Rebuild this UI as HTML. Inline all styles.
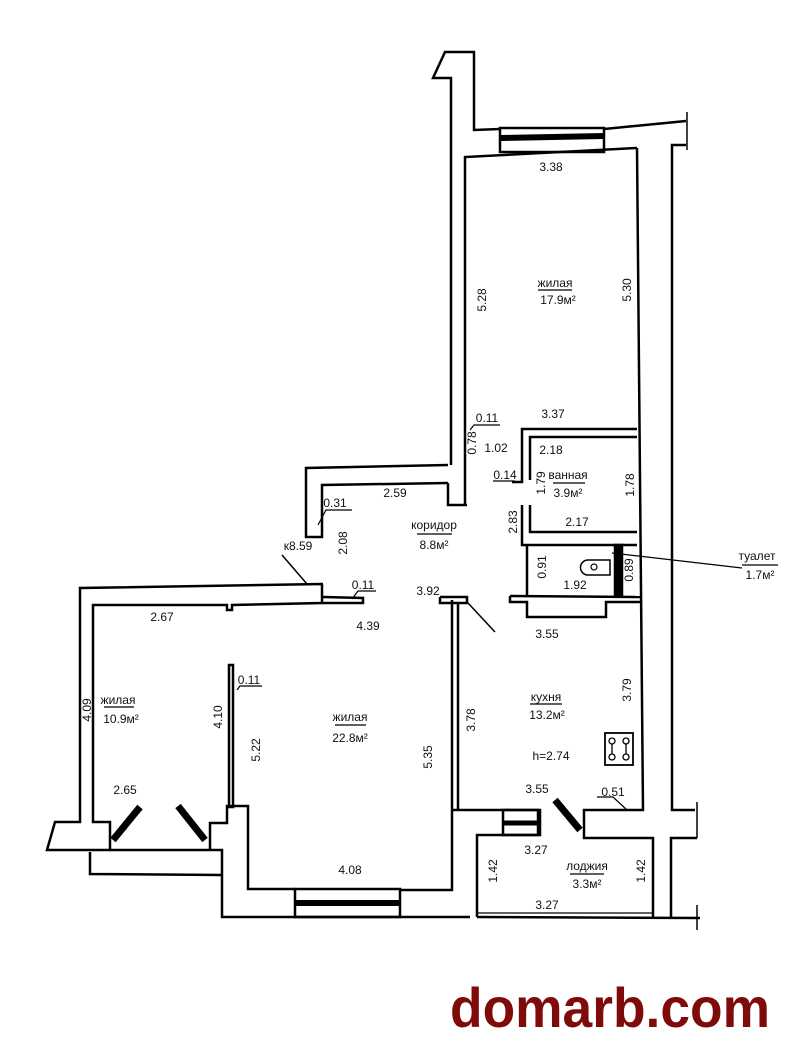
<!DOCTYPE html>
<html><head><meta charset="utf-8"><style>
html,body{margin:0;padding:0;background:#fff}
svg{display:block}
text{font-family:"Liberation Sans",sans-serif;font-size:12px;fill:#111;text-anchor:middle}
</style></head><body>
<svg width="787" height="1051" viewBox="0 0 787 1051" xmlns="http://www.w3.org/2000/svg">
<g fill="none" stroke="#000" stroke-width="2.5" stroke-linejoin="miter">
<polyline points="451,465 451,78 433,78 445,52 474,52 474,130 500,129"/>
<polyline points="465,505 465,157 637,148"/>
<polyline points="448,483 448,505 467,505"/>
<rect x="500" y="128" width="104" height="24"/>
<line x1="500" y1="138" x2="604" y2="136" stroke-width="6"/>
<polyline points="604,129 686,121"/>
<line x1="687" y1="112" x2="687" y2="150" stroke-width="1.5"/>
<polyline points="686,145 672,145 672,810 695,810"/>
<line x1="697" y1="802" x2="697" y2="838" stroke-width="1.5"/>
<polyline points="697,838 671,838 671,918"/>
<polyline points="637,148 643,810 584,810 584,838 653,838 653,918"/>
<polyline points="637,429 522,429 522,482 512,482"/>
<polyline points="637,437 530,437 530,480"/>
<polyline points="522,505 522,545 637,545"/>
<polyline points="530,505 530,532 637,532"/>
<rect x="615" y="545" width="7" height="50" fill="#000"/>
<polyline points="510,596 641,597"/>
<polyline points="510,596 510,602 527,602 527,617 606,617 606,602 641,602"/>
<line x1="527" y1="545" x2="527" y2="596"/>
<polyline points="448,465 306,468 306,537 322,537 322,485 448,483"/>
<line x1="282" y1="555" x2="307" y2="584" stroke-width="1.5"/>
<polyline points="323,584 80,588 80,822 55,822 47,850 110,850 110,822 93,822 93,605 227,605 227,610 232,610 232,605 322,603 322,584"/>
<polyline points="323,597 363,598 363,603 323,603"/>
<polyline points="110,850 222,850 222,917 470,917"/>
<polyline points="90,852 90,874 222,875"/>
<polyline points="210,850 210,823 227,823 227,806 248,806 248,889 295,889"/>
<rect x="229" y="665" width="4" height="142"/>
<rect x="295" y="889" width="105" height="28"/>
<line x1="295" y1="903" x2="400" y2="903" stroke-width="6"/>
<polyline points="400,890 452,890 452,600"/>
<polyline points="458,810 458,603"/>
<polyline points="440,597 467,597 467,603 440,603 440,597"/>
<line x1="468" y1="603" x2="495" y2="632" stroke-width="1.5"/>
<polyline points="452,810 540,810 540,835 477,835 477,917"/>
<rect x="503" y="810" width="35" height="25"/>
<line x1="503" y1="823" x2="538" y2="823" stroke-width="5"/>
<line x1="555" y1="800" x2="580" y2="830" stroke-width="7"/>
<line x1="477" y1="917" x2="700" y2="918"/>
<line x1="477" y1="913" x2="653" y2="913" stroke-width="1.2"/>
<line x1="697" y1="905" x2="697" y2="930" stroke-width="1.5"/>
<line x1="113" y1="840" x2="140" y2="807" stroke-width="7"/>
<line x1="178" y1="806" x2="205" y2="840" stroke-width="7"/>
<path d="M588,560 h22 v15 h-22 a7.5,7.5 0 0 1 0,-15z" stroke-width="1.5"/>
<circle cx="594" cy="567" r="3" stroke-width="1.2"/>
<rect x="605" y="733" width="28" height="32" stroke-width="1.8"/>
<g stroke-width="1.3"><circle cx="612" cy="741" r="3"/><circle cx="626" cy="741" r="3"/><circle cx="612" cy="757" r="3"/><circle cx="626" cy="757" r="3"/><line x1="612" y1="744" x2="612" y2="754"/><line x1="626" y1="744" x2="626" y2="754"/></g>
<g stroke-width="1.2">
<line x1="612" y1="553" x2="742" y2="568"/>
<polyline points="318,525 326,510 352,510"/>
<polyline points="352,599 358,591 376,591"/>
<polyline points="470,430 474,425 500,425"/>
<polyline points="493,481 515,481"/>
<polyline points="237,690 240,686 262,686"/>
<polyline points="627,810 613,797 597,797"/>
</g>
<g stroke-width="1.2">
<line x1="538" y1="290" x2="572" y2="290"/><line x1="553" y1="483" x2="585" y2="483"/>
<line x1="417" y1="534" x2="452" y2="534"/><line x1="742" y1="565" x2="778" y2="565"/>
<line x1="104" y1="707" x2="134" y2="707"/><line x1="335" y1="725" x2="366" y2="725"/>
<line x1="530" y1="704" x2="562" y2="704"/><line x1="570" y1="874" x2="604" y2="874"/>
</g>
</g>
<g>
<text x="551" y="171">3.38</text>
<text x="555" y="287">жилая</text><text x="558" y="304">17.9м²</text>
<text transform="translate(486,300) rotate(-90)">5.28</text>
<text transform="translate(631,290) rotate(-90)">5.30</text>
<text x="487" y="422">0.11</text><text x="553" y="418">3.37</text>
<text transform="translate(476,443) rotate(-90)">0.78</text>
<text x="496" y="452">1.02</text><text x="551" y="454">2.18</text>
<text x="505" y="479">0.14</text>
<text transform="translate(545,483) rotate(-90)">1.79</text>
<text x="568" y="479">ванная</text><text x="568" y="497">3.9м²</text>
<text transform="translate(634,485) rotate(-90)">1.78</text>
<text x="335" y="507">0.31</text><text x="395" y="497">2.59</text>
<text x="434" y="529">коридор</text><text x="434" y="549">8.8м²</text>
<text transform="translate(347,543) rotate(-90)">2.08</text>
<text x="298" y="550">к8.59</text>
<text transform="translate(517,522) rotate(-90)">2.83</text>
<text x="577" y="526">2.17</text>
<text transform="translate(546,567) rotate(-90)">0.91</text>
<text x="575" y="589">1.92</text>
<text transform="translate(633,570) rotate(-90)">0.89</text>
<text x="757" y="560">туалет</text><text x="760" y="579">1.7м²</text>
<text x="363" y="589">0.11</text><text x="428" y="595">3.92</text>
<text x="162" y="621">2.67</text><text x="368" y="630">4.39</text><text x="547" y="638">3.55</text>
<text x="249" y="684">0.11</text>
<text x="118" y="704">жилая</text><text x="121" y="723">10.9м²</text>
<text transform="translate(91,710) rotate(-90)">4.09</text>
<text transform="translate(222,717) rotate(-90)">4.10</text>
<text x="350" y="721">жилая</text><text x="350" y="742">22.8м²</text>
<text transform="translate(260,750) rotate(-90)">5.22</text>
<text transform="translate(432,757) rotate(-90)">5.35</text>
<text transform="translate(475,720) rotate(-90)">3.78</text>
<text x="546" y="701">кухня</text><text x="547" y="719">13.2м²</text>
<text transform="translate(631,690) rotate(-90)">3.79</text>
<text x="551" y="760">h=2.74</text>
<text x="125" y="794">2.65</text><text x="537" y="793">3.55</text><text x="613" y="796">0.51</text>
<text x="350" y="874">4.08</text><text x="536" y="854">3.27</text>
<text x="587" y="870">лоджия</text><text x="587" y="888">3.3м²</text>
<text transform="translate(497,871) rotate(-90)">1.42</text>
<text transform="translate(645,871) rotate(-90)">1.42</text>
<text x="547" y="909">3.27</text>
</g>
<text x="450" y="1027" style="font-size:56px;font-weight:bold;fill:#7f0a0a;text-anchor:start" textLength="320" lengthAdjust="spacingAndGlyphs">domarb.com</text>
</svg>
</body></html>
